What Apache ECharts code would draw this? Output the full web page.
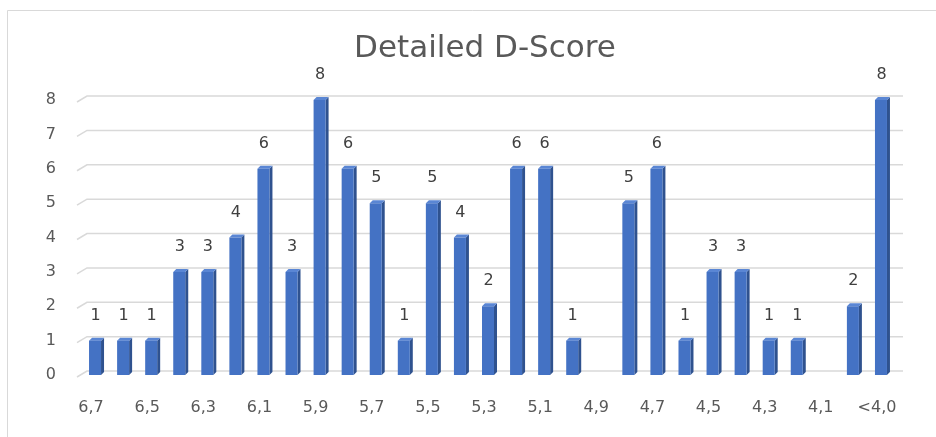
<!DOCTYPE html>
<html>
<head>
<meta charset="utf-8">
<script src="https://cdn.jsdelivr.net/npm/echarts@6/dist/echarts.min.js"></script>
<style>html,body{margin:0;padding:0;background:#fff}#c{width:936px;height:437px}</style>
</head>
<body>
<div id="c"></div>
<script>
const categories = ["6,7","6,6","6,5","6,4","6,3","6,2","6,1","6,0","5,9","5,8","5,7","5,6","5,5","5,4","5,3","5,2","5,1","5,0","4,9","4,8","4,7","4,6","4,5","4,4","4,3","4,2","4,1","4,0","<4,0"];
const counts = [1,1,1,3,3,4,6,3,8,6,5,1,5,4,2,6,6,1,null,5,6,1,3,3,1,1,null,2,8];
const yTicks = [0,1,2,3,4,5,6,7,8];
const titleText = "Detailed D-Score";

const FONT = "DejaVu Sans";
const chart = echarts.init(document.getElementById('c'));

function barItem(params, api) {
  const v = api.value(1);
  if (v === null || v === undefined || isNaN(v)) return;
  const idx = api.value(0);
  const p0 = api.coord([idx, 0]);
  const p1 = api.coord([idx, v]);
  const w = 12, d = 3, rise = 3;
  const xl = p0[0] - w / 2, xr = xl + w;
  const yt = p1[1], yb = p0[1];
  return {
    type: 'group',
    children: [
      { type: 'polygon', shape: { points: [[xr, yt], [xr + d, yt - rise], [xr + d, yb - rise], [xr, yb]] }, style: { fill: '#2F528F' } },
      { type: 'polygon', shape: { points: [[xl, yt], [xl + d, yt - rise], [xr + d, yt - rise], [xr, yt]] }, style: { fill: '#5A86D4' } },
      { type: 'rect', shape: { x: xl, y: yt, width: w, height: yb - yt }, style: { fill: '#4472C4' } },
      { type: 'text', style: { text: String(v), x: xl + (w + d) / 2 - 1, y: yt - 17, textAlign: 'center', textVerticalAlign: 'bottom', fill: '#404040', fontSize: 16, fontFamily: FONT } }
    ]
  };
}

function gridItem(params, api) {
  const cs = params.coordSys;
  const y = api.coord([0, api.value(1)])[1];
  const xs = cs.x - 4, xb = cs.x + 6, xe = cs.x + cs.width + 8;
  return {
    type: 'polyline',
    shape: { points: [[xs, y + 2], [xb, y - 4], [xe, y - 4]] },
    style: { stroke: '#d9d9d9', lineWidth: 1.5, fill: null }
  };
}

chart.setOption({
  animation: false,
  backgroundColor: '#fff',
  title: {
    text: titleText, left: 480, textAlign: 'center', top: 28,
    textStyle: { fontSize: 31, fontWeight: 'normal', color: '#595959', fontFamily: FONT }
  },
  graphic: [{
    type: 'rect', shape: { x: 7.5, y: 10.5, width: 1000, height: 1000 },
    style: { fill: null, stroke: '#d9d9d9', lineWidth: 1 }, silent: true
  }],
  grid: { left: 81, right: 41, top: 100, bottom: 62 },
  xAxis: {
    type: 'category', data: categories,
    axisLine: { show: false }, axisTick: { show: false },
    axisLabel: { interval: 1, margin: 25, fontSize: 16, color: '#595959', fontFamily: FONT, padding: [0, 8, 0, 0] }
  },
  yAxis: {
    type: 'value', min: 0, max: 8, interval: 1,
    splitLine: { show: false }, axisLine: { show: false }, axisTick: { show: false },
    axisLabel: { margin: 25, fontSize: 16, color: '#595959', fontFamily: FONT }
  },
  series: [
    { type: 'custom', renderItem: gridItem, data: yTicks.map(v => [0, v]), z: 1, silent: true },
    { type: 'custom', renderItem: barItem, data: counts.map((v, i) => [i, v]), z: 5 }
  ]
});
</script>
</body>
</html>
